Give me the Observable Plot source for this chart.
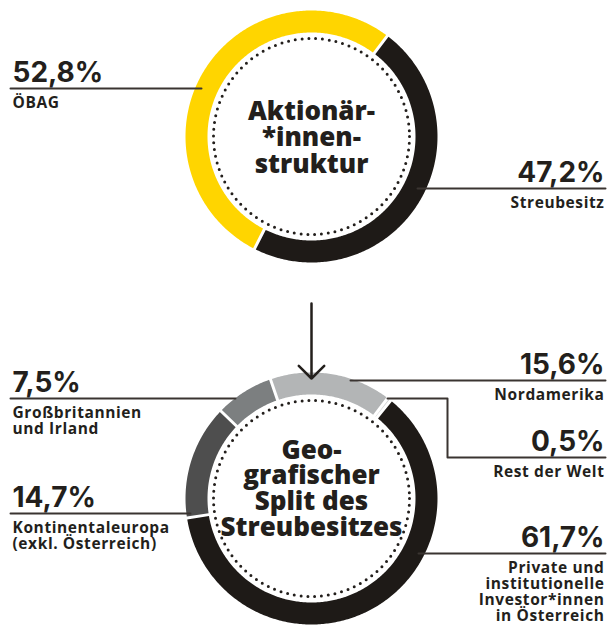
<!DOCTYPE html>
<html><head><meta charset="utf-8">
<script src="https://cdn.jsdelivr.net/npm/d3@7"></script>
<script src="https://cdn.jsdelivr.net/npm/@observablehq/plot@0.6"></script>
<style>
html,body{margin:0;padding:0;background:#fff;}
#chart svg{display:block;}
#chart g[font-size="15.5"] text{letter-spacing:0.6px;}
</style></head><body><div id="chart"></div>
<script>
// ---------- DATA ----------
const shareholderLabels = [["Streubesitz"], ["ÖBAG"]];
const shareholderValues = [47.2, 52.8];
const shareholderColors = ["#1e1a17", "#ffd500"];
const shareholderTitle = ["Aktionär-", "*innen-", "struktur"];

const geoLabels = [
  ["Nordamerika"],
  ["Rest der Welt"],
  ["Private und", "institutionelle", "Investor*innen", "in Österreich"],
  ["Kontinentaleuropa", "(exkl. Österreich)"],
  ["Großbritannien", "und Irland"]
];
const geoValues = [15.6, 0.5, 61.7, 14.7, 7.5];
const geoColors = ["#b3b5b6", "#cfd0d1", "#1e1a17", "#4e4e4e", "#7c7f80"];
const geoTitle = ["Geo-", "grafischer", "Split des", "Streubesitzes"];

// ---------- LAYOUT ----------
const W = 611, H = 625;
const R_OUT = 126, R_IN = 104, R_DOT = 98, GAP = 3;
const INK = "#231f1c", LINE = "#3a3431";
const donuts = [
  {labels: shareholderLabels, values: shareholderValues, colors: shareholderColors, title: shareholderTitle,
   cx: 311, cy: 136, startDeg: 37, titleY: 119, titleLH: 26.5},
  {labels: geoLabels, values: geoValues, colors: geoColors, title: geoTitle,
   cx: 311, cy: 498, startDeg: -19, titleY: 458, titleLH: 25.7}
];
const annotLayout = [
  {d: 0, i: 1, side: "left",  lineY: 88,  path: [[10, 88], [201, 88]]},
  {d: 0, i: 0, side: "right", lineY: 188, path: [[417, 188], [605, 188]]},
  {d: 1, i: 4, side: "left",  lineY: 398, path: [[10, 398], [235, 398]]},
  {d: 1, i: 3, side: "left",  lineY: 513, path: [[10, 513], [190, 513]]},
  {d: 1, i: 0, side: "right", lineY: 380, path: [[350, 380], [605, 380]]},
  {d: 1, i: 1, side: "right", lineY: 457, path: [[387, 398], [447, 398], [447, 457], [605, 457]]},
  {d: 1, i: 2, side: "right", lineY: 553, path: [[418, 553], [605, 553]]}
];
const arrowLayout = [{x1: 311, y1: 303, x2: 311, y2: 378}];

// ---------- DERIVED ----------
const fmt = v => v.toFixed(1).replace(".", ",") + "%";

const slicePts = [];
donuts.forEach((d, di) => {
  const a0 = d.startDeg * Math.PI / 180;
  const arcs = d3.pie().sort(null).value(v => v).startAngle(a0).endAngle(a0 + 2 * Math.PI)(d.values);
  arcs.forEach((a, i) => {
    const po = GAP / 2 / R_OUT, pin = GAP / 2 / R_IN;
    const o0 = a.startAngle + po, o1 = a.endAngle - po;
    const i0 = a.startAngle + pin, i1 = a.endAngle - pin;
    if (o1 <= o0 || i1 <= i0) return;
    const key = di + "-" + i, color = d.colors[i];
    const n = Math.max(6, Math.ceil((o1 - o0) * 80));
    for (let k = 0; k <= n; k++) {
      const t = o0 + (o1 - o0) * k / n;
      slicePts.push({key, color, x: d.cx + R_OUT * Math.sin(t), y: d.cy - R_OUT * Math.cos(t)});
    }
    for (let k = 0; k <= n; k++) {
      const t = i1 - (i1 - i0) * k / n;
      slicePts.push({key, color, x: d.cx + R_IN * Math.sin(t), y: d.cy - R_IN * Math.cos(t)});
    }
  });
});

const leaderPts = [], numberRows = [], labelRows = [];
annotLayout.forEach((a, k) => {
  a.path.forEach(([x, y]) => leaderPts.push({k, x, y}));
  const d = donuts[a.d];
  const x = a.side === "left" ? 12 : 604;
  numberRows.push({x, y: a.lineY - 7, side: a.side, text: fmt(d.values[a.i])});
  d.labels[a.i].forEach((t, j) => labelRows.push({x, y: a.lineY + 19 + j * 16, side: a.side, text: t}));
});

const titleRows = [];
donuts.forEach(d => d.title.forEach((t, j) => titleRows.push({x: d.cx, y: d.titleY + j * d.titleLH, text: t})));

const dash = 2 * Math.PI * R_DOT / 90;
const numStyle = {fontFamily: "Inter", fontWeight: 700, fontSize: 28, fill: INK, lineAnchor: "bottom"};
const labStyle = {fontFamily: "Open Sans", fontWeight: 700, fontSize: 15.5, fill: INK, lineAnchor: "bottom"};
const side = s => r => r.side === s;

const chart = Plot.plot({
  width: W, height: H, margin: 0,
  style: {background: "#fff"},
  x: {domain: [0, W], range: [0, W], axis: null},
  y: {domain: [0, H], range: [0, H], axis: null},
  color: {type: "identity"},
  marks: [
    Plot.line(slicePts, {x: "x", y: "y", z: "key", fill: "color", stroke: "none", curve: "linear"}),
    Plot.dot(donuts, {x: "cx", y: "cy", r: R_DOT, fill: "none", stroke: INK, strokeWidth: 3,
      strokeDasharray: `0 ${dash}`, strokeLinecap: "round"}),
    Plot.line(leaderPts, {x: "x", y: "y", z: "k", stroke: LINE, strokeWidth: 2, curve: "linear"}),
    Plot.arrow(arrowLayout, {x1: "x1", y1: "y1", x2: "x2", y2: "y2", stroke: INK, strokeWidth: 2.5,
      headLength: 10.8, headAngle: 90}),
    Plot.text(numberRows.filter(side("left")), {x: "x", y: "y", text: "text", textAnchor: "start", ...numStyle}),
    Plot.text(numberRows.filter(side("right")), {x: "x", y: "y", text: "text", textAnchor: "end", ...numStyle}),
    Plot.text(labelRows.filter(side("left")), {x: "x", y: "y", text: "text", textAnchor: "start", ...labStyle}),
    Plot.text(labelRows.filter(side("right")), {x: "x", y: "y", text: "text", textAnchor: "end", ...labStyle}),
    Plot.text(titleRows, {x: "x", y: "y", text: "text", textAnchor: "middle", lineAnchor: "bottom",
      fontFamily: "Open Sans", fontWeight: 800, fontSize: 26, fill: INK})
  ]
});
document.getElementById("chart").appendChild(chart);
</script>
</body></html>
